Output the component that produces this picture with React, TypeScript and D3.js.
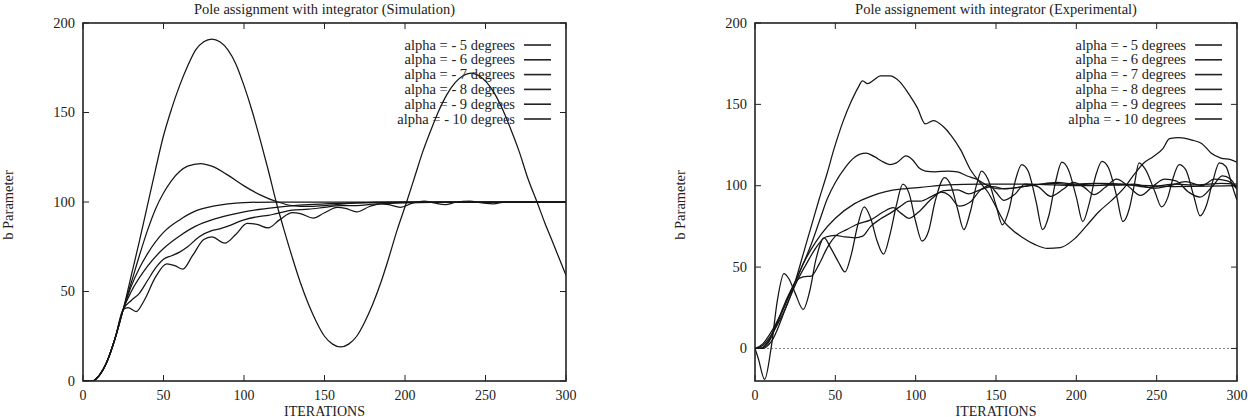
import React from 'react';
import * as d3 from 'd3';

type Pt = [number, number];

// iteration / b parameter pairs
const start: Pt[] = [[0, 0], [6, 0], [10, 3], [15, 11], [20, 24], [25, 40]];

const simAlpha5: Pt[] = [...start, [30, 59], [35, 78], [40, 98], [45, 118], [50, 137], [55, 152], [60, 165], [65, 176],
    [70, 185], [75, 189.5], [80, 191], [85, 189.5], [90, 185], [95, 177], [100, 165], [105, 151], [110, 135], [115, 118],
    [120, 100], [125, 84], [130, 69], [135, 55], [140, 43], [145, 33], [150, 25], [155, 20.6], [160, 19], [165, 20.6],
    [170, 25], [175, 33], [180, 43], [185, 55], [190, 69], [195, 84], [201, 100], [206, 114], [211, 128], [216, 140],
    [221, 151], [226, 160], [231, 166.5], [236, 170.5], [241, 172], [246, 170.5], [251, 166.5], [256, 160], [261, 151],
    [266, 140], [271, 128], [276, 114], [282, 100], [287, 88], [292, 77], [296, 68], [300, 59]];
const simAlpha6: Pt[] = [...start, [30, 55], [35, 70], [40, 84], [45, 96], [50, 105], [55, 112], [60, 117], [65, 120],
    [73, 121.5], [80, 120], [90, 115], [100, 109], [110, 104], [121, 100], [130, 98], [140, 97.5], [150, 98], [170, 99.5],
    [200, 100], [300, 100]];
const simAlpha7: Pt[] = [...start, [30, 53], [35, 63], [40, 71], [50, 83], [60, 90], [70, 95], [80, 97.5], [90, 99],
    [100, 99.7], [120, 100], [300, 100]];
const simAlpha8: Pt[] = [...start, [30, 50], [40, 64], [50, 74], [60, 81], [70, 86.5], [80, 90], [90, 92.5], [100, 94.5],
    [120, 97], [140, 98.5], [160, 99.3], [200, 100], [300, 100]];
const simAlpha9: Pt[] = [...start, [30, 45], [35, 49], [40, 56], [45, 63], [50, 68], [55, 70], [60, 72], [65, 75],
    [72, 80.5], [80, 84], [85, 85], [90, 86.5], [100, 90], [110, 92], [115, 92.5], [120, 93.5], [130, 95.5], [140, 96],
    [150, 97], [160, 98], [170, 98], [180, 98.8], [200, 99.5], [230, 100], [300, 100]];
const simAlpha10: Pt[] = [...start, [28, 41], [33, 38.8], [38, 45], [45, 58], [52, 65.5], [57, 64.5], [62, 62.5], [68, 70],
    [75, 79], [80, 80.5], [88, 77], [95, 82], [102, 88], [108, 87.5], [115, 85.5], [122, 90], [130, 94], [135, 93.5],
    [143, 91], [150, 94], [158, 97], [163, 96.5], [170, 94.5], [178, 97.5], [185, 99], [190, 98.5], [197, 97], [205, 99.5],
    [212, 100.5], [218, 99.5], [225, 98.5], [232, 100], [240, 100.5], [248, 99.5], [255, 99], [262, 100], [300, 100]];

const expAlpha5: Pt[] = [[0, 0], [3, 0], [8, 3], [12, 11], [20, 27], [25, 41], [30, 58], [35, 75], [40, 92], [45, 108],
    [49, 122], [55, 140], [60, 152], [64, 160], [67, 164.4], [70, 162.7], [74, 165], [78, 167.5], [84, 167.5], [90, 164],
    [96, 156], [101, 148], [106, 138], [111, 140], [117, 136.5], [122, 131], [128, 122], [134, 110], [140, 102], [145, 96],
    [150, 87], [155, 78], [160, 73], [166, 68.5], [174, 64], [182, 61.5], [190, 62], [199, 67.5], [206, 75], [214, 84],
    [222, 91], [230, 99], [236, 107], [242, 114], [248, 118], [254, 123], [258, 129], [264, 129.5], [272, 128], [278, 126],
    [284, 120], [290, 117], [296, 116], [300, 114.5]];
const expAlpha6: Pt[] = [[0, 0], [3, 0], [8, 4], [12, 12], [20, 31], [26, 43], [30, 52], [35, 64], [40, 78], [45, 92],
    [50, 102], [56, 111], [62, 117.5], [69, 120], [74, 118], [80, 114.5], [84, 113], [88, 114], [94, 118.3], [98, 116],
    [102, 111], [106, 109], [112, 108.5], [120, 109], [126, 108.5], [132, 106], [138, 104], [145, 100], [152, 98],
    [160, 98.5], [170, 100], [185, 101.5], [200, 100.5], [215, 101.5], [230, 101], [245, 99], [260, 101], [275, 100.5],
    [290, 101.5], [300, 101]];
const expAlpha7: Pt[] = [[0, 0], [5, 2], [10, 8], [20, 30], [26, 43], [30, 52], [35, 61], [41, 70], [50, 80], [62, 89],
    [72, 93.5], [82, 96.5], [92, 98], [103, 99], [120, 100.5], [140, 101], [170, 101], [200, 100], [230, 100.5],
    [260, 99.5], [300, 100]];
const expAlpha8: Pt[] = [[0, 0], [5, 0], [10, 4], [20, 27], [26, 41], [32, 52], [38, 62], [44, 68.5], [50, 69.5],
    [56, 68.5], [62, 68], [67, 69], [72, 75], [78, 79.5], [84, 83], [90, 87], [96, 90.5], [103, 90.5], [110, 93.5],
    [118, 97], [126, 97.5], [133, 95], [140, 97.5], [148, 99.5], [156, 98], [164, 99], [175, 100.5], [188, 102],
    [200, 101], [212, 101.5], [224, 100.5], [236, 101], [248, 98.5], [258, 100], [268, 102.5], [278, 100], [286, 104],
    [294, 103], [300, 98]];
const expAlpha9: Pt[] = [[0, 0], [5, 3], [10, 10], [18, 25], [26, 42], [30, 44], [35, 44.5], [40, 52], [45, 62], [50, 69],
    [57, 73], [64, 76.5], [72, 79], [80, 84], [86, 86.5], [91, 83], [96, 80], [102, 84], [110, 92], [116, 96], [121, 94],
    [127, 87.5], [134, 90], [140, 97], [146, 100], [150, 96], [155, 91], [162, 95], [168, 101], [176, 99.5], [184, 93.5],
    [192, 98], [198, 102], [205, 99], [211, 94.5], [218, 99], [225, 104], [232, 100], [240, 94], [248, 100], [255, 104],
    [262, 103], [270, 96], [277, 93], [285, 100], [291, 106], [296, 104], [300, 98]];
const expAlpha10: Pt[] = [[0, 0], [2, -6], [6, -19], [10, 0], [14, 30], [18, 46], [21, 43], [25, 34], [30, 24], [34, 35],
    [38, 55], [43, 68], [47, 62], [52, 53], [56, 47], [60, 58], [64, 76], [68, 87], [72, 80], [76, 66], [80, 58], [84, 70],
    [88, 88], [92, 101], [96, 95], [100, 78], [104, 66], [108, 72], [112, 90], [118, 105], [122, 100], [126, 86], [130, 73],
    [134, 84], [138, 101], [141, 109], [145, 104], [150, 88], [154, 76], [158, 85], [162, 103], [166, 113], [170, 109],
    [175, 90], [179, 73], [183, 82], [187, 102], [191, 114.5], [195, 110], [200, 93], [204, 78], [208, 89], [212, 106],
    [216, 115], [220, 111], [225, 94], [229, 78], [233, 86], [236, 100], [239, 114], [243, 110], [249, 96], [253, 87],
    [257, 93], [260, 104], [264, 113], [268, 110], [273, 94], [277, 81.5], [281, 88], [285, 103], [289, 114], [293, 112],
    [297, 100], [300, 91]];

const legendLabels = ['alpha = - 5 degrees', 'alpha = - 6 degrees', 'alpha = - 7 degrees',
    'alpha = - 8 degrees', 'alpha = - 9 degrees', 'alpha = - 10 degrees'];
const xTicks = [0, 50, 100, 150, 200, 250, 300];
const yTicks = [0, 50, 100, 150, 200];

const FONT = "'Liberation Serif', 'Times New Roman', Times, serif";

function Panel({ id, title, left, right, yMin, series, zeroLine }:
    { id: string, title: string, left: number, right: number, yMin: number, series: Pt[][], zeroLine: boolean }) {
    const top = 23, bottom = 381;
    const x = d3.scaleLinear().domain([0, 300]).range([left, right]);
    const y = d3.scaleLinear().domain([yMin, 200]).range([bottom, top]);
    const line = d3.line<Pt>().x(d => x(d[0])).y(d => y(d[1])).curve(d3.curveMonotoneX);
    const cx = (left + right) / 2;

    return (
        <g style={{ fontFamily: FONT }} fontSize="14.5" fill="#222">
            <defs>
                <clipPath id={id}><rect x={left} y={top} width={right - left} height={bottom - top} /></clipPath>
            </defs>
            <text x={cx} y={14} textAnchor="middle">{title}</text>
            {zeroLine &&
                <line x1={left} x2={right} y1={y(0)} y2={y(0)} stroke="#666" strokeWidth="0.8" strokeDasharray="2,2" />}
            {xTicks.map(t =>
                <g key={'x' + t}>
                    <line x1={x(t)} x2={x(t)} y1={bottom} y2={bottom - 6} stroke="#222" />
                    <line x1={x(t)} x2={x(t)} y1={top} y2={top + 6} stroke="#222" />
                    <text x={x(t)} y={400} fontSize="14" textAnchor="middle">{t}</text>
                </g>
            )}
            {yTicks.map(t =>
                <g key={'y' + t}>
                    <line x1={left} x2={left + 6} y1={y(t)} y2={y(t)} stroke="#222" />
                    <line x1={right} x2={right - 6} y1={y(t)} y2={y(t)} stroke="#222" />
                    <text x={left - 8} y={y(t) + 4.5} textAnchor="end">{t}</text>
                </g>
            )}
            <g clipPath={`url(#${id})`}>
                {series.map((s, i) =>
                    <path key={i} d={line(s) || ''} fill="none" stroke="#151515" strokeWidth="1.25" />
                )}
            </g>
            {legendLabels.map((l, i) =>
                <g key={l}>
                    <text x={right - 51} y={49.5 + i * 14.8} textAnchor="end">{l}</text>
                    <line x1={right - 42} x2={right - 15} y1={45 + i * 14.8} y2={45 + i * 14.8}
                        stroke="#222" strokeWidth="1.6" />
                </g>
            )}
            <rect x={left} y={top} width={right - left} height={bottom - top} fill="none" stroke="#222" strokeWidth="1.6" />
            <text x={cx} y={415.5} fontSize="14" textAnchor="middle">ITERATIONS</text>
            <text transform={`translate(${left - 70},205) rotate(-90)`} textAnchor="middle">b Parameter</text>
        </g>
    );
}

export default function App() {
    return (
        <svg width={1248} height={417} style={{ position: 'absolute', left: 0, top: 0, background: '#fff' }}>
            <rect width={1248} height={417} fill="#fff" />
            <Panel id="clipSim" title="Pole assignment with integrator (Simulation)" left={83} right={566} yMin={0}
                series={[simAlpha5, simAlpha6, simAlpha7, simAlpha8, simAlpha9, simAlpha10]} zeroLine={false} />
            <Panel id="clipExp" title="Pole assignement with integrator (Experimental)" left={755} right={1237} yMin={-20}
                series={[expAlpha5, expAlpha6, expAlpha7, expAlpha8, expAlpha9, expAlpha10]} zeroLine={true} />
        </svg>
    );
}
